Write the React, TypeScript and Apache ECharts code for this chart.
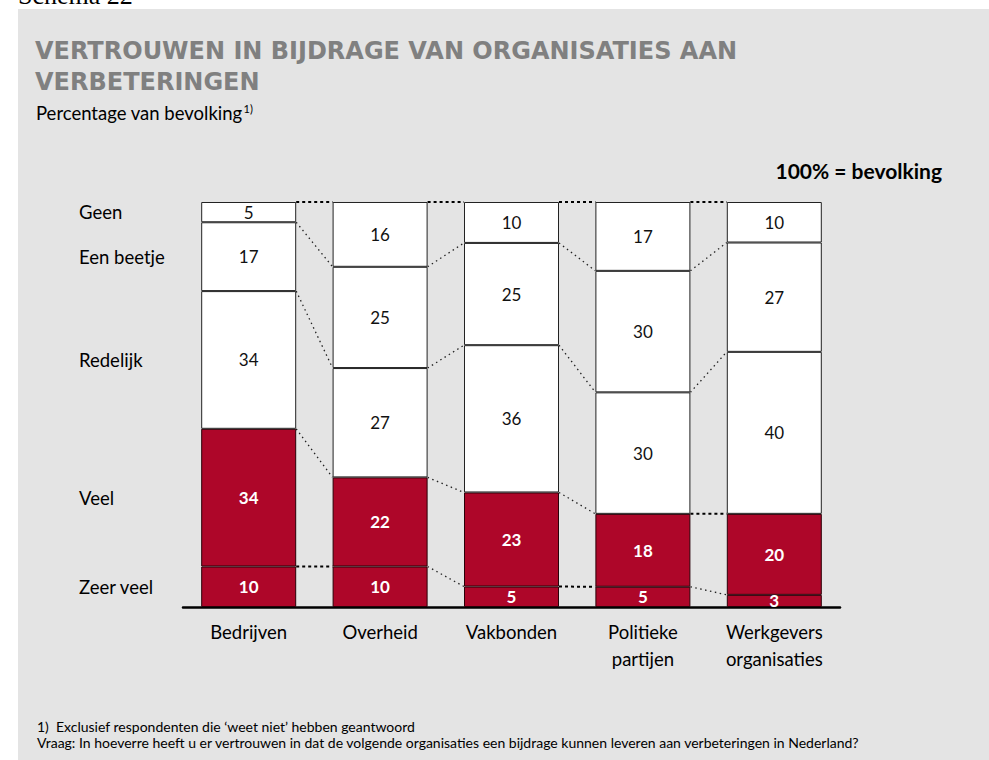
import React, { useEffect, useRef } from "react";
import * as echarts from "echarts";

const categories = ["Bedrijven", "Overheid", "Vakbonden", "Politieke\npartijen", "Werkgevers\norganisaties"];
const levels = ["Zeer veel", "Veel", "Redelijk", "Een beetje", "Geen"];
const zeerVeel = [10, 10, 5, 5, 3];
const veel = [34, 22, 23, 18, 20];
const redelijk = [34, 27, 36, 30, 40];
const eenBeetje = [17, 25, 25, 30, 27];
const geen = [5, 16, 10, 17, 10];

const seriesValues = [zeerVeel, veel, redelijk, eenBeetje, geen];
const RED = "#AE0629";
const FONT = "Lato, 'Noto Sans', sans-serif";
const TITLE_FONT = "'DejaVu Sans', Lato, sans-serif";
const BAR_W = 95;

export default function App() {
  const ref = useRef<HTMLDivElement>(null);
  useEffect(() => {
    if (!ref.current) return;
    const chart = echarts.init(ref.current, null, { renderer: "svg" });

    // each column is drawn as 100% of the population (shares of its own total)
    const totals = categories.map((_, i) => seriesValues.reduce((s, arr) => s + arr[i], 0));
    const shares = seriesValues.map((arr) => arr.map((v, i) => (v / totals[i]) * 100));
    const cum: number[][] = categories.map((_, i) => {
      let s = 0;
      return shares.map((arr) => (s += arr[i]));
    });
    const connectorData: number[][] = [];
    for (let i = 0; i < categories.length - 1; i++) {
      for (let k = 0; k < levels.length; k++) {
        connectorData.push([i, cum[i][k], cum[i + 1][k]]);
      }
    }
    const rowLabelData = levels.map((name, k) => {
      const lo = k === 0 ? 0 : cum[0][k - 1];
      return [0, (lo + cum[0][k]) / 2, k];
    });

    const barSeries = seriesValues.map((arr, k) => ({
      type: "bar",
      name: levels[k],
      stack: "total",
      barWidth: BAR_W,
      data: shares[k].map((v, i) => ({ value: v, raw: arr[i] })),
      itemStyle: {
        color: k < 2 ? RED : "#ffffff",
        borderColor: k < 2 ? "#2a0008" : "#222",
        borderWidth: 1,
      },
      label: {
        show: true,
        position: "inside",
        formatter: (p: any) => String(p.data.raw),
        color: k < 2 ? "#ffffff" : "#111",
        fontWeight: k < 2 ? "bold" : "normal",
        fontSize: 17,
        fontFamily: FONT,
      },
      z: 3,
    }));

    chart.setOption({
      animation: false,
      grid: { left: 183, top: 202, width: 657, height: 405 },
      xAxis: {
        type: "category",
        data: categories,
        axisLine: { lineStyle: { color: "#000", width: 2.5 } },
        axisTick: { show: false },
        axisLabel: {
          color: "#000",
          fontSize: 18.5,
          fontFamily: FONT,
          margin: 11,
          lineHeight: 27,
        },
      },
      yAxis: { type: "value", min: 0, max: 100, show: false },
      graphic: [
        { type: "rect", shape: { x: 18, y: 9, width: 971, height: 751 }, style: { fill: "#E4E4E4" }, z: -10 },
        {
          type: "text",
          x: 18,
          y: -5,
          style: { text: "Schema 22", font: "26px 'Liberation Serif', serif", fill: "#000", verticalAlign: "middle" },
        },
        {
          type: "text",
          left: 35,
          top: 35,
          style: {
            text: "VERTROUWEN IN BIJDRAGE VAN ORGANISATIES AAN\nVERBETERINGEN",
            font: `bold 24px ${TITLE_FONT}`,
            fill: "#808080",
            lineHeight: 31,
          },
        },
        {
          type: "text",
          left: 36,
          top: 103,
          style: {
            text: "{a|Percentage van bevolking}{s|1)}",
            rich: {
              a: { fontSize: 18.5, fontFamily: FONT, fill: "#000", color: "#000" } as any,
              s: { fontSize: 11, fontFamily: FONT, fill: "#000", color: "#000", verticalAlign: "top", padding: [0, 0, 7, 1] } as any,
            },
          },
        },
        {
          type: "text",
          right: 47,
          top: 160,
          style: { text: "100% = bevolking", font: `bold 21px ${FONT}`, fill: "#000" },
        },
        {
          type: "text",
          x: 37,
          y: 726,
          style: {
            text: "1)  Exclusief respondenten die \u2018weet niet\u2019 hebben geantwoord",
            font: `14px ${FONT}`,
            fill: "#000",
            lineHeight: 15,
            verticalAlign: "middle",
          },
        },
        {
          type: "text",
          x: 37,
          y: 742,
          style: {
            text: "Vraag: In hoeverre heeft u er vertrouwen in dat de volgende organisaties een bijdrage kunnen leveren aan verbeteringen in Nederland?",
            font: `14px ${FONT}`,
            fill: "#000",
            lineHeight: 15,
            verticalAlign: "middle",
          },
        },
      ],
      series: [
        ...barSeries,
        {
          type: "custom",
          coordinateSystem: "cartesian2d",
          data: connectorData,
          encode: { x: 0, y: 1 },
          z: 2,
          silent: true,
          renderItem: (params: any, api: any) => {
            const i = api.value(0);
            const p0 = api.coord([i, api.value(1)]);
            const p1 = api.coord([i + 1, api.value(2)]);
            const horiz = Math.abs(p0[1] - p1[1]) < 3;
            return {
              type: "line",
              shape: { x1: p0[0] + BAR_W / 2, y1: p0[1], x2: p1[0] - BAR_W / 2, y2: p1[1] },
              style: {
                stroke: "#000",
                lineWidth: horiz ? 2 : 1.3,
                lineDash: horiz ? [3, 3] : [1.5, 3.5],
                opacity: horiz ? 1 : 0.85,
              },
            };
          },
        },
        {
          type: "custom",
          coordinateSystem: "cartesian2d",
          data: rowLabelData,
          encode: { x: 0, y: 1 },
          silent: true,
          renderItem: (params: any, api: any) => {
            const p = api.coord([0, api.value(1)]);
            const k = api.value(2);
            return {
              type: "text",
              x: 79,
              y: p[1],
              style: {
                text: levels[k],
                font: `18.5px ${FONT}`,
                fill: "#000",
                textAlign: "left",
                textVerticalAlign: "middle",
              },
            };
          },
        },
      ],
    });
    return () => chart.dispose();
  }, []);
  return <div ref={ref} style={{ position: "absolute", left: 0, top: 0, width: 989, height: 760 }} />;
}
